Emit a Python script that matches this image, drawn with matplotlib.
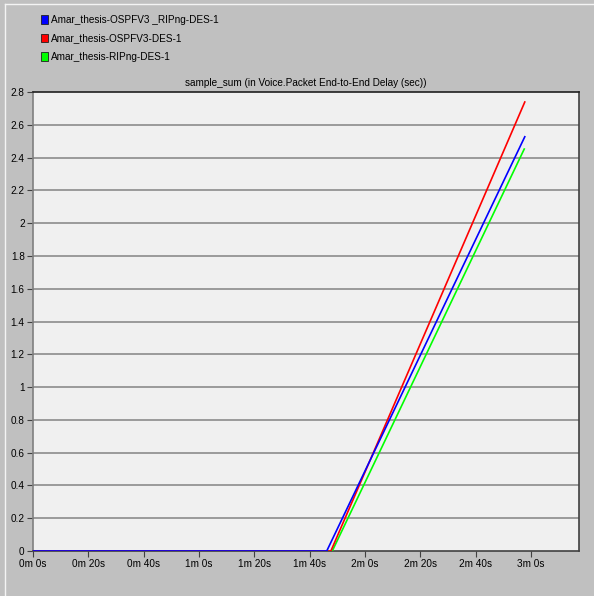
import matplotlib
matplotlib.use("Agg")
import matplotlib.pyplot as plt
from matplotlib.patches import Patch
from matplotlib.lines import Line2D

plt.rcParams['font.family'] = ['Liberation Sans Narrow', 'Liberation Sans', 'DejaVu Sans']

# sample times (sec) and cumulative delay (sec) for each scenario
names = ["Amar_thesis-OSPFV3 _RIPng-DES-1",
         "Amar_thesis-OSPFV3-DES-1",
         "Amar_thesis-RIPng-DES-1"]
colors = ["#0000ff", "#ff0000", "#00ff00"]

t_ospf_rip = [0, 106.2, 177.8]
d_ospf_rip = [0, 0, 2.527]
t_ospf = [0, 107.7, 177.8]
d_ospf = [0, 0, 2.739]
t_rip = [0, 108.2, 177.6]
d_rip = [0, 0, 2.452]

tick_secs = [0, 20, 40, 60, 80, 100, 120, 140, 160, 180]
tick_labels = ["0m 0s", "0m 20s", "0m 40s", "1m 0s", "1m 20s", "1m 40s",
               "2m 0s", "2m 20s", "2m 40s", "3m 0s"]
y_ticks = [0, 0.2, 0.4, 0.6, 0.8, 1, 1.2, 1.4, 1.6, 1.8, 2, 2.2, 2.4, 2.6, 2.8]

fig = plt.figure(figsize=(5.94, 5.96), dpi=100, facecolor="#c0c0c0")
ax = fig.add_axes([33/594, 45/596, 546/594, 459/596])
ax.set_facecolor("#f0f0f0")

# draw order: green, red, blue on top
ax.plot(t_rip, d_rip, color=colors[2], lw=1.2, zorder=3)
ax.plot(t_ospf, d_ospf, color=colors[1], lw=1.2, zorder=4)
ax.plot(t_ospf_rip, d_ospf_rip, color=colors[0], lw=1.2, zorder=5)

ax.set_xlim(0, 197.4)
ax.set_ylim(0, 2.8)
ax.set_xticks(tick_secs)
ax.set_xticklabels(tick_labels)
ax.set_yticks(y_ticks)
ax.set_yticklabels([f"{v:g}" for v in y_ticks])
ax.tick_params(labelsize=7.2, length=4, width=0.8, color="#404040", pad=2)

for y in y_ticks[1:-1]:
    ax.axhline(y, color="#8c8c8c", lw=1.2, zorder=1)

ax.spines['top'].set_color("#202020")
ax.spines['right'].set_color("#404040")
ax.spines['bottom'].set_color("#404040")
ax.spines['left'].set_color("#808080")
for s in ax.spines.values():
    s.set_linewidth(1.2)

ax.set_title("sample_sum (in Voice.Packet End-to-End Delay (sec))", fontsize=7.2, pad=4)

handles = [Patch(facecolor=c, edgecolor="#202020", lw=0.6) for c in colors]
fig.legend(handles, names, loc="upper left", bbox_to_anchor=(41/594, 1 - 15/596),
           frameon=False, fontsize=7.2, handlelength=0.7, handleheight=0.9,
           handletextpad=0.3, labelspacing=0.85, borderaxespad=0, borderpad=0)

# panel edge highlight
fig.add_artist(Line2D([5/594, 5/594], [0, 1 - 4/596], color="#f4f4f4", lw=1))
fig.add_artist(Line2D([5/594, 1], [1 - 4/596, 1 - 4/596], color="#f4f4f4", lw=1))

fig.savefig("out.png", dpi=100, facecolor=fig.get_facecolor())
